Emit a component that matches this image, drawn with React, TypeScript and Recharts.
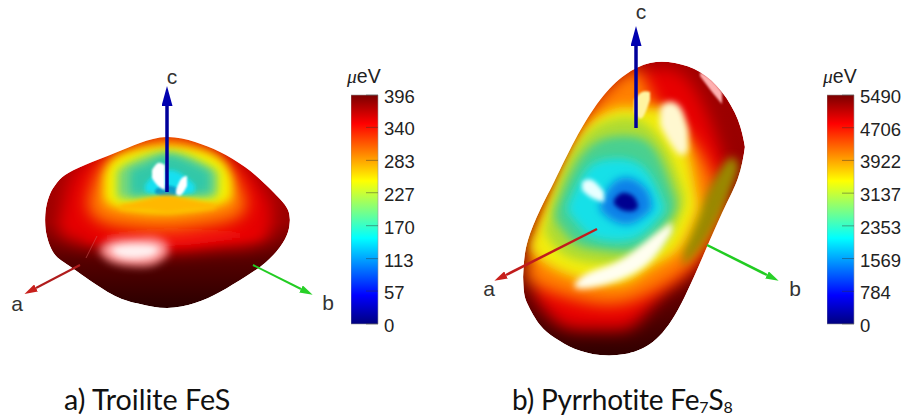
import { Area, Bar, BarChart, ComposedChart, Line, XAxis, YAxis } from "recharts";

// Surfaces as [x, top edge, bottom edge] in image pixels
type Row = [number, number, number];

const troiliteBody: Row[] = [[45,220,220],[46,208,232],[50,194,246],[56,184,256],[65,175,263],[85,165,277],[115,153,296],[140,143,304],[167,137,308],[195,142,303],[220,152,292],[245,167,277],[265,184,263],[280,199,247],[288,210,232],[290,220,220]];
const troiliteRed: Row[] = [[58,225,232],[70,180,240],[88,160,245],[117,148,248],[167,135,252],[217,148,248],[250,172,245],[272,205,235]];
const troiliteOrange: Row[] = [[88,200,210],[102,165,222],[130,148,228],[167,136,230],[205,148,226],[232,170,220],[246,200,210]];
const troiliteYellow: Row[] = [[104,178,198],[118,156,208],[167,146,213],[216,156,206],[232,180,198]];
const troiliteGreen: Row[] = [[117,172,196],[127,164,199],[167,152,196],[205,164,198],[218,172,194]];
const troiliteTeal: Row[] = [[130,170,196],[150,162,194],[167,155,193],[190,162,194],[210,172,193]];
const troiliteCyan: Row[] = [[145,185,192],[155,175,194],[170,170,195],[183,175,195],[195,185,192]];
const troiliteCore: Row[] = [[155,190,193],[162,186,196],[172,186,196],[180,190,193]];
const troiliteLip: Row[] = [[120,205,210],[150,198,211],[167,195,213],[185,198,211],[215,204,209]];
const troiliteStreakA: Row[] = [[152,170,178],[158,163,186],[165,165,190]];
const troiliteStreakB: Row[] = [[176,190,194],[181,179,195],[187,176,186]];
const troiliteShine: Row[] = [[100,248,252],[112,240,262],[135,238,266],[155,238,264],[168,244,254]];
const troiliteShineCore: Row[] = [[112,248,252],[125,245,258],[148,245,257],[158,248,251]];
const troiliteRidge: Row[] = [[85,236,240],[120,232,242],[167,228,246],[215,230,242],[262,232,236]];

const pyrrhotiteBody: Row[] = [[523,277,277],[524,262,292],[528,240,305],[540,210,325],[555,180,338],[575,140,349],[600,100,355],[625,75,354],[650,63,344],[675,63,315],[700,72,263],[722,92,213],[738,120,178],[745,147,147]];
const pyrrhotiteRed: Row[] = [[535,275,298],[560,190,325],[590,120,330],[620,85,330],[640,72,320],[665,68,292],[690,82,270],[712,125,232],[725,165,180]];
const pyrrhotiteOlive: Row[] = [[683,250,267],[706,195,240],[727,160,200],[738,162,172]];
const pyrrhotiteOrange: Row[] = [[526,273,278],[537,226,286],[557,178,294],[577,135,300],[597,100,304],[620,78,304],[640,72,298],[657,105,290],[687,135,270],[710,170,238],[722,205,210]];
const pyrrhotiteYellow: Row[] = [[530,245,250],[547,205,265],[570,157,276],[590,123,282],[617,108,284],[637,108,277],[657,108,264],[680,125,248],[698,200,210]];
const pyrrhotiteLime: Row[] = [[545,228,233],[560,180,252],[585,135,262],[617,118,264],[643,122,258],[667,150,240],[684,195,205]];
const pyrrhotiteTeal: Row[] = [[555,210,220],[575,165,243],[600,140,250],[630,136,252],[655,150,240],[676,200,210]];
const pyrrhotiteCyan: Row[] = [[568,205,212],[585,172,232],[603,160,240],[630,160,240],[650,175,228],[664,205,212]];
const pyrrhotiteBlue: Row[] = [[600,205,210],[612,184,220],[630,178,224],[647,190,214],[652,205,209]];
const pyrrhotiteNavy: Row[] = [[614,200,204],[622,193,210],[633,196,211],[638,205,207]];
const pyrrhotiteArc: Row[] = [[575,283,288],[590,272,288],[620,260,280],[650,238,262],[672,222,232]];
const pyrrhotiteCrest: Row[] = [[660,108,125],[668,102,140],[680,107,155],[688,130,150]];
const pyrrhotitePale: Row[] = [[634,100,112],[642,92,118],[650,92,100]];
const pyrrhotiteStreak: Row[] = [[582,182,190],[592,180,198],[604,192,202]];
const pyrrhotiteRim: Row[] = [[700,72,76],[712,80,92],[722,92,104]];

// Axis arrows and the crease, as [x1, y1, x2, y2]
const troiliteA = [80, 265, 36, 288];
const troiliteB = [253, 265, 301, 289];
const troiliteC = [167, 192, 167, 106];
const troiliteCrease = [86, 258, 97, 236];
const pyrrhotiteA = [597, 229, 506, 275];
const pyrrhotiteB = [707, 245, 767, 275];
const pyrrhotiteC = [636, 128, 636, 46];

const troiliteTicks = [0, 57, 113, 170, 227, 283, 340, 396];
const pyrrhotiteTicks = [0, 784, 1569, 2353, 3137, 3922, 4706, 5490];

const axisNames = [
  { name: "a", x: 17, y: 304 },
  { name: "b", x: 328, y: 303 },
  { name: "c", x: 172, y: 77 },
  { name: "a", x: 489, y: 289 },
  { name: "b", x: 795, y: 289 },
  { name: "c", x: 641, y: 12 },
];

const JET = [
  [0, "#7a0000"],
  [0.125, "#ff0000"],
  [0.375, "#ffff00"],
  [0.625, "#00ffff"],
  [0.875, "#0000ff"],
  [1, "#00007f"],
];

const layers: { rows: Row[]; fill: string; blur?: number }[] = [
  { rows: troiliteBody, fill: "url(#troiliteBase)" },
  { rows: troiliteRed, fill: "#e60000", blur: 8 },
  { rows: troiliteRidge, fill: "#f00808", blur: 5 },
  { rows: troiliteOrange, fill: "#ff8000", blur: 8 },
  { rows: troiliteYellow, fill: "#f5f000", blur: 5 },
  { rows: troiliteGreen, fill: "#78d878", blur: 4 },
  { rows: troiliteTeal, fill: "#30c8a8", blur: 4 },
  { rows: troiliteCyan, fill: "#18e0f0", blur: 2 },
  { rows: troiliteCore, fill: "#0a9cc8", blur: 1 },
  { rows: troiliteLip, fill: "#ffb800", blur: 2 },
  { rows: troiliteStreakA, fill: "#ffffff", blur: 1 },
  { rows: troiliteStreakB, fill: "#ffffff", blur: 1 },
  { rows: troiliteShine, fill: "#ff9c9c", blur: 4 },
  { rows: troiliteShineCore, fill: "#fff0f0", blur: 3 },
  { rows: pyrrhotiteBody, fill: "url(#pyrrhotiteBase)" },
  { rows: pyrrhotiteRed, fill: "#e80000", blur: 8 },
  { rows: pyrrhotiteOrange, fill: "#ff8000", blur: 8 },
  { rows: pyrrhotiteOlive, fill: "#9a8800", blur: 4 },
  { rows: pyrrhotiteYellow, fill: "#f2ec10", blur: 6 },
  { rows: pyrrhotiteLime, fill: "#b0dc30", blur: 5 },
  { rows: pyrrhotiteTeal, fill: "#48d090", blur: 5 },
  { rows: pyrrhotiteCyan, fill: "#18e0e8", blur: 5 },
  { rows: pyrrhotiteBlue, fill: "#0a80e8", blur: 4 },
  { rows: pyrrhotiteNavy, fill: "#000090", blur: 2 },
  { rows: pyrrhotiteArc, fill: "#fffef0", blur: 3 },
  { rows: pyrrhotiteCrest, fill: "#fff8d0", blur: 3 },
  { rows: pyrrhotitePale, fill: "#fff4a0", blur: 1 },
  { rows: pyrrhotiteStreak, fill: "#e8ffff", blur: 2 },
  { rows: pyrrhotiteRim, fill: "#ffb0b0", blur: 1 },
];

const bodies = [troiliteBody, pyrrhotiteBody];

const arrows: { line: number[]; stroke: string; width: number; head?: string; opacity?: number }[] = [
  { line: troiliteCrease, stroke: "#d86060", width: 1, opacity: 0.5 },
  { line: troiliteA, stroke: "#b01c1c", width: 2, head: "headRed" },
  { line: troiliteB, stroke: "#22cc22", width: 2, head: "headGreen" },
  { line: troiliteC, stroke: "#00009b", width: 3.5, head: "headBlue" },
  { line: pyrrhotiteA, stroke: "#c01c1c", width: 2.5, head: "headRed" },
  { line: pyrrhotiteB, stroke: "#22cc22", width: 2.5, head: "headGreen" },
  { line: pyrrhotiteC, stroke: "#00009b", width: 3.5, head: "headBlue" },
];

const BLURS = [1, 2, 3, 4, 5, 6, 8];

function toRows(rows: Row[]) {
  return rows.map(([x, top, bottom]) => ({ x, range: [top, bottom] }));
}

function toPoints(line: number[]) {
  return [
    { x: line[0], y: line[1] },
    { x: line[2], y: line[3] },
  ];
}

function Head({ id, fill, length, width }: { id: string; fill: string; length: number; width: number }) {
  return (
    <marker
      id={id}
      markerUnits="userSpaceOnUse"
      markerWidth={length}
      markerHeight={width}
      refX={0}
      refY={width / 2}
      orient="auto"
    >
      <path d={`M0,0 L${length},${width / 2} L0,${width} z`} fill={fill} />
    </marker>
  );
}

// white covers that trim the blurred paint back to each body's outline
function outsideAreas(body: Row[], key: string) {
  const above = body.map(([x, top]) => ({ x, range: [0, top] }));
  const below = body.map(([x, , bottom]) => ({ x, range: [bottom, 420] }));
  const first = body[0][0];
  const last = body[body.length - 1][0];
  const left = [{ x: first - 22, range: [0, 420] }, { x: first + 0.2, range: [0, 420] }];
  const right = [{ x: last - 0.2, range: [0, 420] }, { x: last + 22, range: [0, 420] }];
  return [above, below, left, right].map((data, i) => (
    <Area
      key={`${key}-${i}`}
      data={data}
      dataKey="range"
      type={i < 2 ? "natural" : "linear"}
      stroke="none"
      fill="#fff"
      fillOpacity={1}
      dot={false}
      activeDot={false}
      isAnimationActive={false}
    />
  ));
}

function Scene() {
  return (
    <ComposedChart width={906} height={420} margin={{ top: 0, right: 0, bottom: 0, left: 0 }}>
      <defs>
        {BLURS.map((b) => (
          <filter key={b} id={`blur${b}`} filterUnits="userSpaceOnUse" x={0} y={0} width={906} height={420}>
            <feGaussianBlur stdDeviation={b} />
          </filter>
        ))}
        <linearGradient id="troiliteBase" x1="0" y1="0" x2="0" y2="1">
          <stop offset="0%" stopColor="#b00000" />
          <stop offset="50%" stopColor="#980000" />
          <stop offset="72%" stopColor="#560000" />
          <stop offset="100%" stopColor="#2a0000" />
        </linearGradient>
        <linearGradient id="pyrrhotiteBase" x1="0" y1="0" x2="0" y2="1">
          <stop offset="0%" stopColor="#a00000" />
          <stop offset="60%" stopColor="#8f0000" />
          <stop offset="100%" stopColor="#300000" />
        </linearGradient>
        <Head id="headRed" fill="#c8201c" length={13} width={8} />
        <Head id="headGreen" fill="#28d028" length={13} width={8} />
        <Head id="headBlue" fill="#0000b0" length={20} width={11} />
      </defs>
      <XAxis type="number" dataKey="x" domain={[0, 906]} hide allowDataOverflow />
      <YAxis type="number" domain={[0, 420]} reversed hide allowDataOverflow width={0} />
      {layers.map((layer, i) => (
        <Area
          key={i}
          data={toRows(layer.rows)}
          dataKey="range"
          type="natural"
          stroke="none"
          fill={layer.fill}
          fillOpacity={1}
          filter={layer.blur ? `url(#blur${layer.blur})` : undefined}
          dot={false}
          activeDot={false}
          isAnimationActive={false}
        />
      ))}
      {bodies.map((body, i) => outsideAreas(body, `outside-${i}`))}
      {arrows.map((arrow, i) => (
        <Line
          key={i}
          data={toPoints(arrow.line)}
          dataKey="y"
          type="linear"
          stroke={arrow.stroke}
          strokeWidth={arrow.width}
          strokeOpacity={arrow.opacity ?? 1}
          markerEnd={arrow.head ? `url(#${arrow.head})` : undefined}
          dot={false}
          activeDot={false}
          isAnimationActive={false}
        />
      ))}
    </ComposedChart>
  );
}

function ScaleTick({ x, y, payload }: any) {
  return (
    <g>
      <line x1={x - 12} x2={x} y1={y} y2={y} stroke="#333" strokeOpacity={0.45} />
      <text x={x + 6} y={y + 8} fontSize={18.5} fontFamily="'Liberation Sans', Arial, sans-serif" fill="#222">
        {payload.value}
      </text>
    </g>
  );
}

function ColorScale({ id, ticks, left }: { id: string; ticks: number[]; left: number }) {
  const max = ticks[ticks.length - 1];
  return (
    <div style={{ position: "absolute", left, top: 80 }}>
      <BarChart
        width={87}
        height={260}
        data={[{ name: "scale", value: max }]}
        barCategoryGap={0}
        margin={{ top: 15, right: 0, bottom: 16, left: 0 }}
      >
        <defs>
          <linearGradient id={id} x1="0" y1="0" x2="0" y2="1">
            {JET.map(([offset, color]) => (
              <stop key={offset} offset={offset as number} stopColor={color as string} />
            ))}
          </linearGradient>
        </defs>
        <XAxis type="category" dataKey="name" hide />
        <YAxis
          type="number"
          orientation="right"
          width={60}
          domain={[0, max]}
          ticks={ticks}
          interval={0}
          axisLine={false}
          tickLine={false}
          tickSize={0}
          tickMargin={0}
          tick={ScaleTick}
        />
        <Bar dataKey="value" fill={`url(#${id})`} stroke="#999" strokeWidth={0.6} isAnimationActive={false} />
      </BarChart>
    </div>
  );
}

function Unit({ left }: { left: number }) {
  return (
    <div style={{ position: "absolute", left, top: 65, fontSize: 19.5, color: "#222", fontFamily: "'Liberation Sans', Arial, sans-serif" }}>
      <i style={{ fontFamily: "'Liberation Serif', serif" }}>μ</i>eV
    </div>
  );
}

const captionStyle = {
  position: "absolute",
  top: 382,
  fontSize: 28.7,
  color: "#111",
  fontFamily: "Lato, sans-serif",
  whiteSpace: "nowrap",
} as const;

const subStyle = { fontSize: 16, lineHeight: 0, verticalAlign: -3 };

export default function App() {
  return (
    <div style={{ position: "absolute", left: 0, top: 0, width: 906, height: 420, background: "#fff", overflow: "hidden" }}>
      <Scene />
      {axisNames.map((a, i) => (
        <div
          key={i}
          style={{
            position: "absolute",
            left: a.x,
            top: a.y,
            transform: "translate(-50%, -50%)",
            fontSize: 21,
            color: "#333",
            fontFamily: "'Liberation Sans', Arial, sans-serif",
          }}
        >
          {a.name}
        </div>
      ))}
      <ColorScale id="jetTroilite" ticks={troiliteTicks} left={351} />
      <ColorScale id="jetPyrrhotite" ticks={pyrrhotiteTicks} left={827} />
      <Unit left={347} />
      <Unit left={823} />
      <div style={{ ...captionStyle, left: 64 }}>a) Troilite FeS</div>
      <div style={{ ...captionStyle, left: 512, fontSize: 28, letterSpacing: -0.2 }}>
        b) Pyrrhotite Fe<sub style={subStyle}>7</sub>S<sub style={subStyle}>8</sub>
      </div>
    </div>
  );
}
